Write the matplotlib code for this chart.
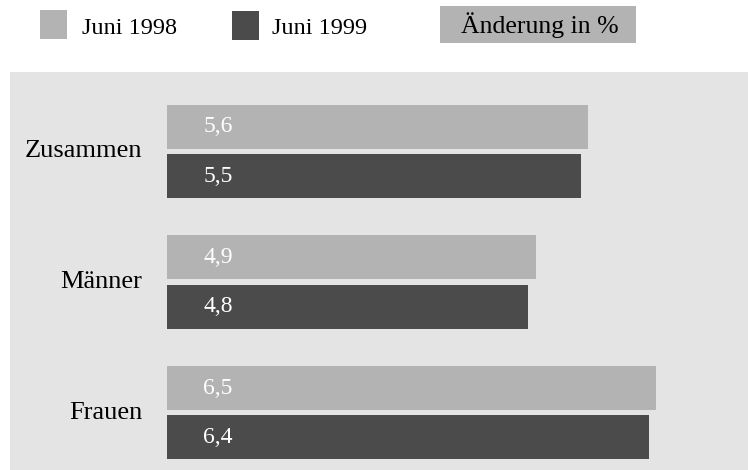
import matplotlib
matplotlib.use("Agg")
from matplotlib import pyplot as plt
from matplotlib.patches import Rectangle

# data
categories = ['Zusammen', 'Männer', 'Frauen']
juni_1998 = [5.6, 4.9, 6.5]
juni_1999 = [5.5, 4.8, 6.4]
legend_labels = ['Juni 1998', 'Juni 1999']
box_label = 'Änderung in %'

light = '#b3b3b3'
dark = '#4b4b4b'
panel = '#e4e4e4'

plt.rcParams['font.family'] = ['Liberation Serif', 'DejaVu Serif']

W, H = 748, 470
fig = plt.figure(figsize=(W / 100, H / 100), dpi=100)

def fx(px):
    return px / W

def fy(py):
    return 1 - py / H

# grey panel behind the bars
fig.patches.append(Rectangle((fx(10), 0), fx(738), 398 / H, transform=fig.transFigure,
                             facecolor=panel, edgecolor='none', zorder=-5))

# legend at top
fig.patches.append(Rectangle((fx(40), fy(39)), fx(27), 29 / H, transform=fig.transFigure,
                             facecolor=light, edgecolor='none'))
fig.text(fx(82), fy(34), legend_labels[0], fontsize=17.5, va='baseline', ha='left')
fig.patches.append(Rectangle((fx(232), fy(40)), fx(27), 29 / H, transform=fig.transFigure,
                             facecolor=dark, edgecolor='none'))
fig.text(fx(272), fy(34), legend_labels[1], fontsize=17.5, va='baseline', ha='left')
fig.patches.append(Rectangle((fx(440), fy(43)), fx(196), 37 / H, transform=fig.transFigure,
                             facecolor=light, edgecolor='none'))
fig.text(fx(540), fy(33), box_label, fontsize=18.5, va='baseline', ha='center')

# axes: starts where the bars start
ax = fig.add_axes([fx(167), 0, fx(748 - 167), 398 / H])
ax.set_zorder(1)
ax.patch.set_visible(False)
for s in ax.spines.values():
    s.set_visible(False)
ax.set_xticks([])
ax.set_yticks([])

ypos = list(range(len(categories)))
h = 0.337
off = 0.188
ax.barh([y - off for y in ypos], juni_1998, height=h, color=light)
ax.barh([y + off for y in ypos], juni_1999, height=h, color=dark)

ax.set_xlim(0, 7.72)
ax.set_ylim(2.44, -0.609)

for y, a, b, name in zip(ypos, juni_1998, juni_1999, categories):
    ax.annotate(str(a).replace('.', ','), xy=(0, y - off), xytext=(26, 0),
                textcoords='offset points', color='white', fontsize=17,
                ha='left', va='center')
    ax.annotate(str(b).replace('.', ','), xy=(0, y + off), xytext=(26, 0),
                textcoords='offset points', color='white', fontsize=17,
                ha='left', va='center')
    ax.annotate(name, xy=(0, y), xytext=(-18, 0), textcoords='offset points',
                fontsize=19, ha='right', va='center', annotation_clip=False)

plt.savefig('out.png', dpi=100)
